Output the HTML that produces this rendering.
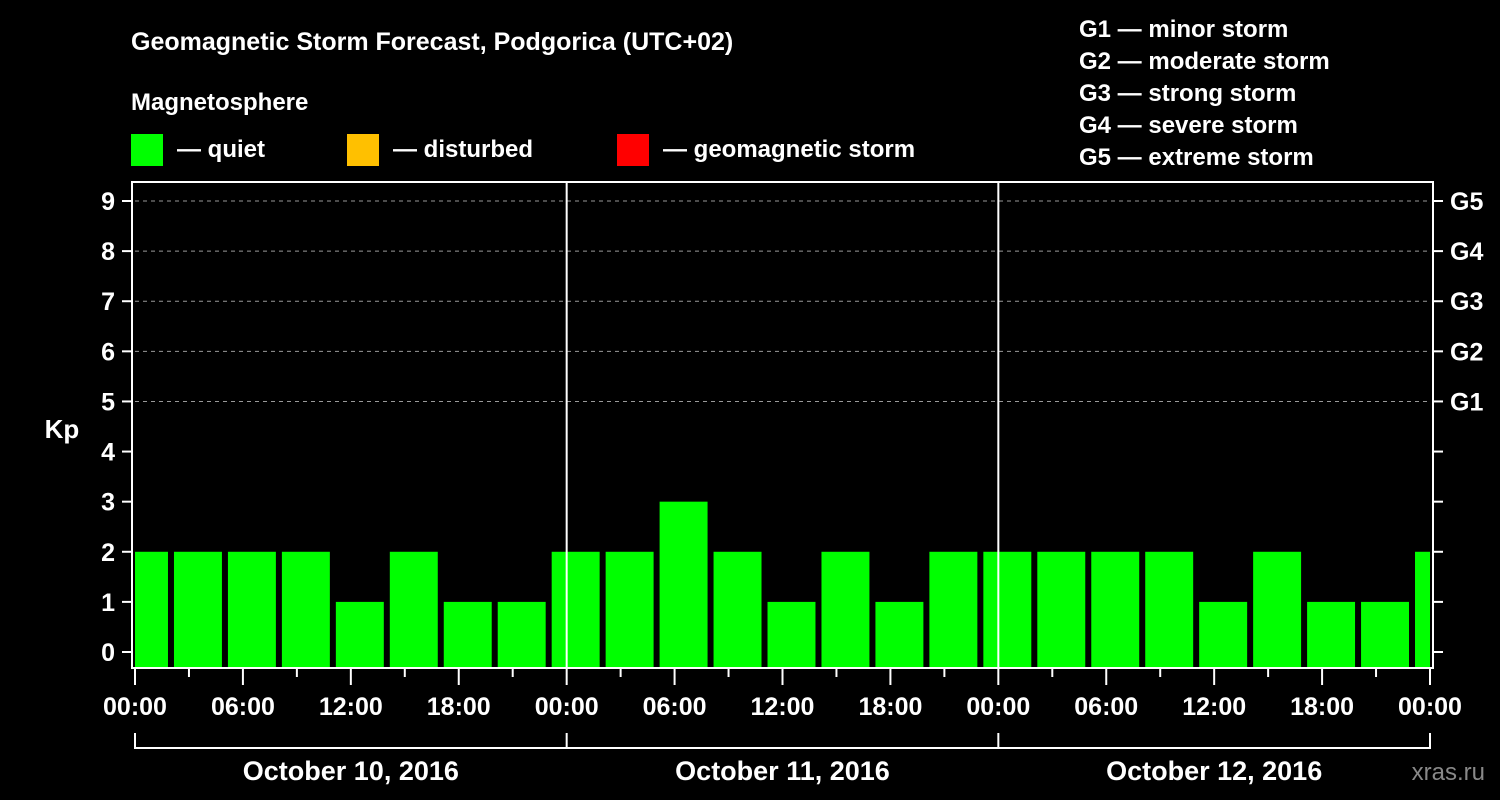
<!DOCTYPE html>
<html><head><meta charset="utf-8"><style>
html,body{margin:0;padding:0;background:#000;}
svg{display:block;font-family:"Liberation Sans",Arial,sans-serif;font-weight:bold;}
</style></head><body>
<svg id="c" width="1500" height="800" viewBox="0 0 1500 800">
<rect width="1500" height="800" fill="#000"/>
<text x="131" y="50" fill="#fff" font-size="25">Geomagnetic Storm Forecast, Podgorica (UTC+02)</text>
<text x="131" y="110" fill="#fff" font-size="24">Magnetosphere</text>
<g><rect x="131" y="134" width="32" height="32" fill="#00ff00"/><text x="177" y="157" fill="#fff" font-size="24">— quiet</text></g>
<g><rect x="347" y="134" width="32" height="32" fill="#ffc000"/><text x="393" y="157" fill="#fff" font-size="24">— disturbed</text></g>
<g><rect x="617" y="134" width="32" height="32" fill="#ff0000"/><text x="663" y="157" fill="#fff" font-size="24">— geomagnetic storm</text></g>
<g fill="#fff" font-size="24">
<text x="1079" y="37">G1 — minor storm</text>
<text x="1079" y="69">G2 — moderate storm</text>
<text x="1079" y="101">G3 — strong storm</text>
<text x="1079" y="133">G4 — severe storm</text>
<text x="1079" y="165">G5 — extreme storm</text>
</g>
<text x="62" y="438" fill="#fff" font-size="26" text-anchor="middle">Kp</text>
<text x="1485" y="780" fill="#888" font-size="24" text-anchor="end" font-weight="normal">xras.ru</text>
<defs><clipPath id="pc"><rect x="135" y="182" width="1295" height="486"/></clipPath></defs>
<g id="grid"></g>
<g id="bars" clip-path="url(#pc)"></g>
<g id="axes"></g>
</svg>
<script>
const kpValues=[2,2,2,2,1,2,1,1,2,2,3,2,1,2,1,2,2,2,2,2,1,2,1,1,2];
const dayLabels=["October 10, 2016","October 11, 2016","October 12, 2016"];
const hourLabels=["00:00","06:00","12:00","18:00"];
const yTicks=[0,1,2,3,4,5,6,7,8,9];
const gLabels=["G1","G2","G3","G4","G5"];
const firstBarHour=-1, slotHours=3, totalHours=72;
const X0=135,X1=1430,Y0=652,Y9=201;
const xs=h=>X0+(X1-X0)*h/totalHours;
const ys=v=>Y0+(Y9-Y0)*v/9;
const NS="http://www.w3.org/2000/svg";
function mk(p,t,a){const e=document.createElementNS(NS,t);for(const k in a)e.setAttribute(k,a[k]);p.appendChild(e);return e;}
const grid=document.getElementById('grid'),bars=document.getElementById('bars'),axes=document.getElementById('axes');
for(let g=5;g<=9;g++){const l=mk(grid,'line',{x1:X0,x2:X1,y1:ys(g),y2:ys(g),stroke:'#999','stroke-dasharray':'4,4','stroke-width':1});

}
kpValues.forEach((v,i)=>{const h=firstBarHour+i*slotHours;const x=xs(h)+3,w=xs(h+slotHours)-xs(h)-6;
const r=mk(bars,'rect',{x:x,y:ys(v),width:w,height:668-ys(v),fill:v>=5?'#ff0000':(v>=4?'#ffc000':'#00ff00')});

});
// frame
const f=mk(axes,'rect',{x:132,y:182,width:1301,height:486,fill:'none',stroke:'#fff','stroke-width':2});


for(let d=1;d<3;d++){const l=mk(axes,'line',{x1:xs(d*24),x2:xs(d*24),y1:182,y2:668,stroke:'#fff','stroke-width':2});

}
yTicks.forEach(v=>{mk(axes,'line',{x1:122,x2:132,y1:ys(v),y2:ys(v),stroke:'#fff','stroke-width':2});
const t=mk(axes,'text',{x:115,y:ys(v)+9,fill:'#fff','font-size':25,'text-anchor':'end'});t.textContent=v;


mk(axes,'line',{x1:1433,x2:1443,y1:ys(v),y2:ys(v),stroke:'#fff','stroke-width':2});});
gLabels.forEach((g,i)=>{const t=mk(axes,'text',{x:1450,y:ys(i+5)+9,fill:'#fff','font-size':25});t.textContent=g;

});
for(let h=0;h<=totalHours;h+=3){const major=h%6===0;mk(axes,'line',{x1:xs(h),x2:xs(h),y1:669,y2:major?685:677,stroke:'#fff','stroke-width':2});
if(major){const t=mk(axes,'text',{x:xs(h),y:715,fill:'#fff','font-size':25,'text-anchor':'middle'});t.textContent=hourLabels[(h%24)/6];

}}
mk(axes,'line',{x1:X0,x2:X1,y1:748,y2:748,stroke:'#fff','stroke-width':2});
for(let d=0;d<=3;d++)mk(axes,'line',{x1:xs(d*24),x2:xs(d*24),y1:733,y2:749,stroke:'#fff','stroke-width':2});
dayLabels.forEach((s,d)=>{const t=mk(axes,'text',{x:xs(d*24+12),y:780,fill:'#fff','font-size':27,'text-anchor':'middle'});t.textContent=s;

});
</script>
</body></html>
